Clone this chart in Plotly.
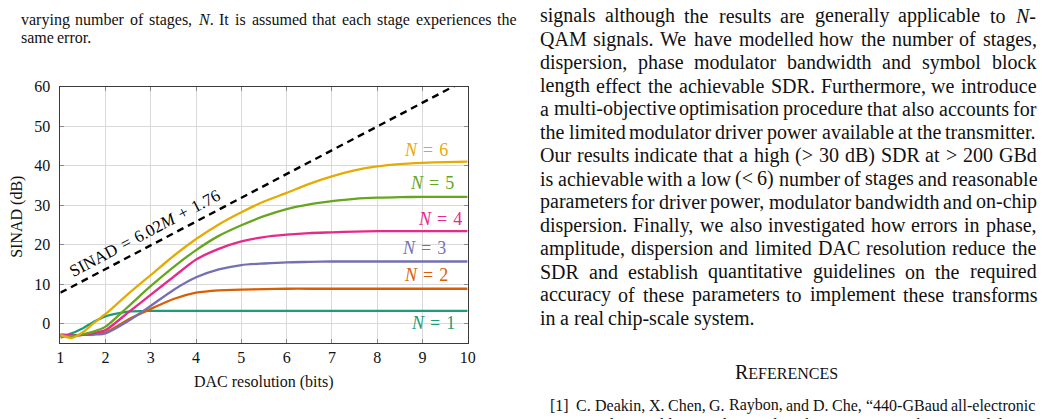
import re
import plotly.graph_objects as go

W, H = 1051, 419

# ---------------- data ----------------
bits = [1, 1.25, 1.5, 1.75, 2, 2.5, 3, 3.5, 4, 4.5, 5, 5.5, 6, 6.5, 7, 7.5, 8, 8.5, 9, 9.5, 10]
sinad_n1 = [-3.6, -2.5, -1.2, 0.5, 1.8, 3.0, 3.2, 3.2, 3.2, 3.2, 3.2, 3.2, 3.2, 3.2, 3.2, 3.2, 3.2, 3.2, 3.2, 3.2, 3.2]
sinad_n2 = [-2.8, -3.0, -2.9, -2.7, -2.3, 1.0, 3.7, 6.2, 7.8, 8.4, 8.6, 8.7, 8.8, 8.8, 8.8, 8.8, 8.8, 8.8, 8.8, 8.8, 8.8]
sinad_n3 = [-2.9, -3.0, -2.9, -2.8, -2.5, 0.6, 4.5, 8.5, 11.7, 13.7, 14.8, 15.2, 15.5, 15.6, 15.7, 15.7, 15.7, 15.7, 15.7, 15.7, 15.7]
sinad_n4 = [-3.0, -3.0, -2.9, -2.4, -1.7, 2.8, 7.3, 11.8, 16.2, 18.9, 20.8, 21.9, 22.5, 22.9, 23.1, 23.3, 23.4, 23.4, 23.4, 23.4, 23.4]
sinad_n5 = [-3.3, -3.2, -2.7, -2.0, -0.8, 4.3, 9.5, 14.3, 18.6, 22.2, 24.9, 27.2, 29.0, 30.2, 31.0, 31.6, 31.9, 32.0, 32.1, 32.1, 32.1]
sinad_n6 = [-2.9, -3.7, -2.2, 0.2, 2.4, 7.5, 12.3, 17.1, 21.4, 25.1, 28.2, 30.9, 33.1, 35.4, 37.3, 38.8, 39.8, 40.4, 40.7, 40.9, 41.0]

ideal_bits = [1, 10]
ideal_sinad = [7.78, 61.96]

stage_names = ["N = 1", "N = 2", "N = 3", "N = 4", "N = 5", "N = 6"]
stage_colors = ["#1b9e77", "#d95f02", "#7570b3", "#e7298a", "#66a61e", "#e6ab02"]
label_x = [9.24, 9.07, 9.03, 9.38, 9.22, 9.09]
label_y = [0.0, 12.2, 19.2, 26.5, 35.5, 43.9]

x_ticks = [1, 2, 3, 4, 5, 6, 7, 8, 9, 10]
y_ticks = [0, 10, 20, 30, 40, 50, 60]

caption_lines = [
    "varying number of stages, <i>N</i>. It is assumed that each stage experiences the",
    "same error.",
]
body_lines = [
    "signals although the results are generally applicable to <i>N</i>-",
    "QAM signals. We have modelled how the number of stages,",
    "dispersion, phase modulator bandwidth and symbol block",
    "length effect the achievable SDR. Furthermore, we introduce",
    "a multi-objective optimisation procedure that also accounts for",
    "the limited modulator driver power available at the transmitter.",
    "Our results indicate that a high (&gt; 30 dB) SDR at &gt; 200 GBd",
    "is achievable with a low (&lt; 6) number of stages and reasonable",
    "parameters for driver power, modulator bandwidth and on-chip",
    "dispersion. Finally, we also investigated how errors in phase,",
    "amplitude, dispersion and limited DAC resolution reduce the",
    "SDR and establish quantitative guidelines on the required",
    "accuracy of these parameters to implement these transforms",
    "in a real chip-scale system.",
]
ref_lines = [
    "C. Deakin, X. Chen, G. Raybon, and D. Che, \u201c440-GBaud all-electronic",
    "signaling enabling single-wavelength net rate over 1 Tb/s per modulation",
]

# ---------------- figure ----------------
fig = go.Figure()
series = [sinad_n1, sinad_n2, sinad_n3, sinad_n4, sinad_n5, sinad_n6]
for name, col, ys in zip(stage_names, stage_colors, series):
    fig.add_trace(go.Scatter(x=bits, y=ys, mode="lines", name=name,
                             line=dict(color=col, width=2.3, shape="spline", smoothing=0.6)))
fig.add_trace(go.Scatter(x=ideal_bits, y=ideal_sinad, mode="lines", name="ideal",
                         line=dict(color="black", width=2.4, dash="7px,5px")))

serif = "Liberation Serif"
sp = "\u2004"
for name, col, lx, ly in zip(stage_names, stage_colors, label_x, label_y):
    n, num = name.split(" = ")
    fig.add_annotation(x=lx, y=ly, xref="x", yref="y", showarrow=False,
                       xanchor="center", yanchor="middle",
                       text="<i>%s</i>%s=%s%s" % (n, sp, sp, num),
                       font=dict(family=serif, size=18, color=col))

fig.add_annotation(x=2.857, y=22.85, xref="x", yref="y", showarrow=False, textangle=-27.8,
                   xanchor="center", yanchor="middle",
                   text="SINAD%s=%s6.02<i>M</i>%s+%s1.76" % (sp, sp, sp, sp),
                   font=dict(family=serif, size=17, color="black"))

# axis titles
fig.add_annotation(x=13 / W, y=1 - 213 / H, xref="paper", yref="paper", showarrow=False,
                   xanchor="center", yanchor="middle",
                   text="SINAD (dB)", textangle=-90, font=dict(family=serif, size=16, color="#111"))
fig.add_annotation(x=263 / W, y=1 - 381.5 / H, xref="paper", yref="paper", showarrow=False,
                   xanchor="center", yanchor="middle",
                   text="DAC resolution (bits)", font=dict(family=serif, size=16, color="#111"))

# ---------------- surrounding page text (justified word by word) ----------------
TW = {' ': 250, 'a': 444, 'b': 500, 'c': 444, 'd': 500, 'e': 444, 'f': 333, 'g': 500, 'h': 500,
      'i': 278, 'j': 278, 'k': 500, 'l': 278, 'm': 778, 'n': 500, 'o': 500, 'p': 500, 'q': 500,
      'r': 333, 's': 389, 't': 278, 'u': 500, 'v': 500, 'w': 722, 'x': 500, 'y': 500, 'z': 444,
      'A': 722, 'B': 667, 'C': 667, 'D': 722, 'E': 611, 'F': 556, 'G': 722, 'H': 722, 'I': 333,
      'J': 389, 'K': 722, 'L': 611, 'M': 889, 'N': 722, 'O': 722, 'P': 556, 'Q': 722, 'R': 667,
      'S': 556, 'T': 611, 'U': 722, 'V': 722, 'W': 944, 'X': 722, 'Y': 722, 'Z': 611,
      '.': 250, ',': 250, '-': 333, '(': 333, ')': 333, '<': 564, '>': 564, '=': 564, '+': 564,
      '\u201c': 444, '\u201d': 444, '/': 278, '[': 333, ']': 333, ':': 278, ';': 278}


def plain(s):
    s = re.sub(r"<[^>]+>", "", s)
    return s.replace("&gt;", ">").replace("&lt;", "<")


def width(s, size):
    return sum(TW.get(ch, 500) for ch in plain(s)) / 1000.0 * size


def put_line(text, x0, x1, yc, size, justify=True):
    words = text.split(" ")
    ws = [width(w, size) for w in words]
    if justify and len(words) > 1:
        gap = (x1 - x0 - sum(ws)) / (len(words) - 1)
    else:
        gap = 0.25 * size
    x = x0
    for w, wd in zip(words, ws):
        fig.add_annotation(x=x / W, y=1 - yc / H, xref="paper", yref="paper", showarrow=False,
                           xanchor="left", yanchor="middle", text=w, borderpad=0,
                           font=dict(family=serif, size=size, color="#111"))
        x += wd + gap


for i, ln in enumerate(caption_lines):
    put_line(ln, 16, 517, 12 + 18.5 * i, 16, justify=(i < len(caption_lines) - 1))

for i, ln in enumerate(body_lines):
    put_line(ln, 541, 1043, 8 + 23.7 * i, 20, justify=(i < len(body_lines) - 1))

fig.add_annotation(x=792 / W, y=1 - 371 / H, xref="paper", yref="paper", showarrow=False,
                   xanchor="center", yanchor="middle",
                   text="R<span style='font-size:16px'>EFERENCES</span>",
                   font=dict(family=serif, size=20, color="#111"))
fig.add_annotation(x=551 / W, y=1 - 405 / H, xref="paper", yref="paper", showarrow=False,
                   xanchor="left", yanchor="middle", text="[1]", borderpad=0,
                   font=dict(family=serif, size=16, color="#111"))
put_line(ref_lines[0], 578, 1041, 405, 16)
put_line(ref_lines[1], 578, 1041, 425, 16)

axis_common = dict(showgrid=True, gridcolor="#d9d9d9", gridwidth=1, zeroline=False,
                   showline=True, linecolor="#3a3a3a", linewidth=1, mirror="ticks",
                   ticks="inside", ticklen=4, tickcolor="#8a8a8a", tickwidth=1,
                   tickfont=dict(family=serif, size=16, color="#111"))
fig.update_layout(
    width=W, height=H, margin=dict(l=0, r=0, t=0, b=0),
    paper_bgcolor="white", plot_bgcolor="white", showlegend=False,
    xaxis=dict(domain=[57 / W, 469 / W], range=[1, 10], tickvals=x_ticks,
               ticklabelstandoff=0, **axis_common),
    yaxis=dict(domain=[(H - 341.7) / H, (H - 80.3) / H], range=[-5, 60], tickvals=y_ticks,
               ticklabelstandoff=6, **axis_common),
)

fig.write_html("out.html")
